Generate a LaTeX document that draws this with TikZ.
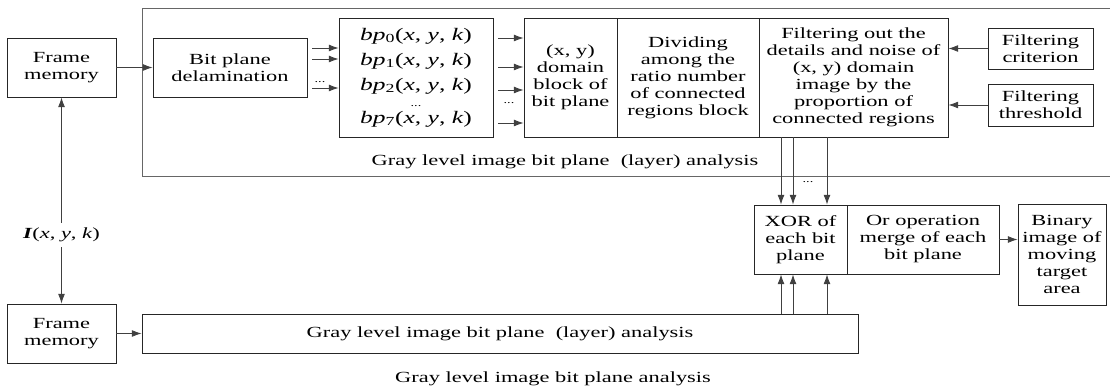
\documentclass[tikz,border=0pt]{standalone}
\usepackage{fontspec}
\setmainfont{Liberation Serif}[FakeStretch=1.45]
\usepackage{tikz}
\usetikzlibrary{arrows.meta, positioning}
\newcommand{\bpl}[1]{\textit{bp}\textsubscript{#1}(\textit{x}, \textit{y}, \textit{k})}

\begin{document}
\begin{tikzpicture}[x=0.25mm, y=-0.25mm, line width=0.6pt,
    every node/.style={font=\fontsize{11}{12.1}\selectfont},
    blk/.style 2 args={draw=black!85, align=center, inner sep=0pt,
        minimum width=#1*0.25mm, minimum height=#2*0.25mm},
    arr/.style={-{Latex[length=2.4mm,width=1.7mm]}, draw=black!75},
    dotsl/.style={font=\scriptsize}]
    \useasboundingbox (0,0) rectangle (1110,389);
    % outer analysis frame (open to the right)
    \draw[black!60] (1110,8) -- (142,8) -- (142,176) -- (1110,176);
    \node (toplbl) at (565,162) {Gray level image bit plane \ (layer) analysis};
    % upper row
    \node[blk={109}{59}] (fmtop) at (61.5,67.5) {Frame\\memory};
    \node[blk={154}{59}] (delam) at (230,67.5) {Bit plane\\delamination};
    \node[blk={154}{119}, font=\fontsize{12.5}{14}\selectfont] (bpbox) at (416,77.5)
        {\bpl{0}\\[1.3mm]\bpl{1}\\[1.3mm]\bpl{2}\\[-0.8mm]{\scriptsize ...}\\[-0.8mm]\bpl{7}};
    \node[blk={93}{119}] (domain) at (570.5,77.5) {(x, y)\\domain\\block of\\bit plane};
    \node[blk={142}{119}] (divide) at (688,77.5) {Dividing\\among the\\ratio number\\of connected\\regions block};
    \node[blk={189}{119}] (filter) at (853.5,77.5) {Filtering out the\\details and noise of\\(x, y) domain\\image by the\\proportion of\\connected regions};
    \node[blk={105}{41}] (crit) at (1040.5,48.5) {Filtering\\criterion};
    \node[blk={105}{42}] (thresh) at (1040.5,105) {Filtering\\threshold};
    % merge row
    \node[blk={93}{69}] (xor) at (800.5,239.5) {XOR of\\each bit\\plane};
    \node[blk={152}{69}] (ormerge) at (923,239.5) {Or operation\\merge of each\\bit plane};
    \node[blk={88}{101}] (binary) at (1062,254.5) {Binary\\image of\\moving\\target\\area};
    % lower row
    \node[blk={109}{59}] (fmbot) at (61.5,333.5) {Frame\\memory};
    \node[blk={716}{39}] (graybox) at (500,333.5) {Gray level image bit plane \ (layer) analysis};
    \node (caption) at (553,379) {Gray level image bit plane analysis};
    \node (ixyk) at (61.5,235) {\textbf{\textit{I}}(\textit{x}, \textit{y}, \textit{k})};
    % connectors
    \draw[arr] (fmtop) -- (delam);
    \foreach \y in {48,59,88}
        \draw[arr, shorten <=1.25mm] (delam.east |- 0,\y) -- (bpbox.west |- 0,\y);
    \node[dotsl] (dots1) at (320,82) {...};
    \foreach \y in {38,67,90,123}
        \draw[arr, shorten <=1.25mm] (bpbox.east |- 0,\y) -- (domain.west |- 0,\y);
    \node[dotsl] (dots2) at (509,103) {...};
    \draw[arr] (crit.west) -- (filter.east |- crit.west);
    \draw[arr] (thresh.west) -- (filter.east |- thresh.west);
    \foreach \x in {781,793,827} {
        \draw[arr] (filter.south -| \x,0) -- (xor.north -| \x,0);
        \draw[arr] (graybox.north -| \x,0) -- (xor.south -| \x,0);
    }
    \node[dotsl] (dots3) at (808,182) {...};
    \draw[arr] (ormerge.east) -- (binary.west |- ormerge.east);
    \draw[arr] (fmbot) -- (graybox);
    \draw[arr] (ixyk.north) -- (fmtop.south);
    \draw[arr] (ixyk.south) -- (fmbot.north);
\end{tikzpicture}
\end{document}
